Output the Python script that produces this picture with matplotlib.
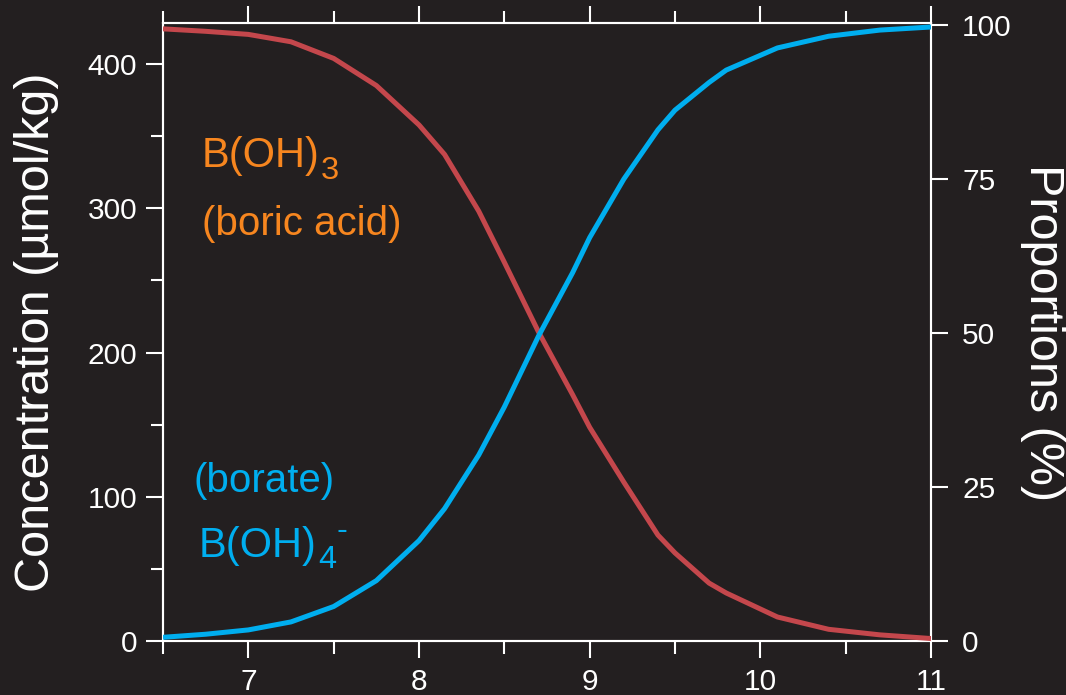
import matplotlib
matplotlib.use("Agg")
import matplotlib.pyplot as plt
from matplotlib.ticker import MultipleLocator, FixedLocator
from matplotlib.transforms import offset_copy

plt.rcParams['font.family'] = ['Liberation Sans', 'DejaVu Sans']

# ---- data ----
ph = [6.5, 6.75, 7.0, 7.25, 7.5, 7.75, 8.0, 8.15, 8.35, 8.5, 8.7, 8.9,
      9.0, 9.2, 9.4, 9.5, 9.7, 9.8, 10.1, 10.4, 10.7, 11.0]
borate_pct = [0.6, 1.1, 1.8, 3.1, 5.6, 9.8, 16.3, 21.5, 30.2, 38.0, 49.5, 59.8,
              65.5, 75.0, 83.0, 86.2, 90.7, 92.7, 96.3, 98.2, 99.2, 99.7]
boric_pct = [99.4, 99.0, 98.5, 97.3, 94.6, 90.2, 83.8, 79.0, 69.8, 61.5, 50.2, 40.0,
             34.7, 25.8, 17.2, 14.3, 9.4, 7.8, 3.9, 1.9, 1.0, 0.4]
conc_ticks = [0, 100, 200, 300, 400]
conc_minor = [50, 150, 250, 350]
pct_ticks = [0, 25, 50, 75, 100]
x_ticks = [7, 8, 9, 10, 11]

BG = '#231f20'
FG = 'white'
RED = '#c4474c'
BLUE = '#00aeef'
ORANGE = '#f7861f'

fig = plt.figure(figsize=(10.66, 6.95), dpi=100, facecolor=BG)
ax = fig.add_axes([163/1066, 1-641/695, (931-163)/1066, (641-23)/695])
ax.set_facecolor(BG)
ax2 = ax.twinx()

ax.set_xlim(6.5, 11)
ax.set_ylim(0, 428.5)
ax2.set_ylim(0, 100.35)

ax2.plot(ph, boric_pct, color=RED, lw=3.6, solid_capstyle='butt',
         solid_joinstyle='round', zorder=3)
ax2.plot(ph, borate_pct, color=BLUE, lw=3.6, solid_capstyle='butt',
         solid_joinstyle='round', zorder=3)

for a in (ax, ax2):
    for s in a.spines.values():
        s.set_color(FG)
        s.set_linewidth(1.5)

ax.xaxis.set_major_locator(FixedLocator(x_ticks))
ax.xaxis.set_minor_locator(MultipleLocator(0.5))
ax.yaxis.set_major_locator(FixedLocator(conc_ticks))
ax.yaxis.set_minor_locator(FixedLocator(conc_minor))
ax2.yaxis.set_major_locator(FixedLocator(pct_ticks))

ax.tick_params(axis='x', which='both', direction='out', top=True, bottom=True,
               labeltop=False, colors=FG, width=1.5, labelsize=21.5, pad=7)
ax.tick_params(axis='x', which='major', length=12.5)
ax.tick_params(axis='x', which='minor', length=9)
ax.tick_params(axis='y', which='both', direction='out', colors=FG, width=1.5,
               labelsize=21.5, pad=6)
ax.tick_params(axis='y', which='major', length=12.5)
ax.tick_params(axis='y', which='minor', length=9)
ax2.tick_params(axis='y', which='major', direction='out', colors=FG, width=1.5,
                length=12.5, labelsize=21.5, pad=10)

fig.text(37/1066, 1-332/695, 'Concentration (µmol/kg)', rotation=90, color=FG,
         fontsize=35, ha='center', va='center')
fig.text(1043/1066, 1-333/695, 'Proportions (%)', rotation=270, color=FG,
         fontsize=35, ha='center', va='center')

fig.canvas.draw()
renderer = fig.canvas.get_renderer()


def chem(x, y, base, sub, sup, color, size):
    t = ax2.text(x, y, base, color=color, fontsize=size, va='baseline', ha='left')
    bb = t.get_window_extent(renderer)
    xe, _ = ax2.transData.inverted().transform((bb.x1, bb.y0))
    tr_sub = offset_copy(ax2.transData, fig=fig, x=1, y=-8, units='points')
    s = ax2.text(xe, y, sub, color=color, fontsize=size*0.78, va='baseline',
                 ha='left', transform=tr_sub)
    if sup:
        bb2 = s.get_window_extent(renderer)
        xe2, _ = ax2.transData.inverted().transform((bb2.x1, bb2.y0))
        tr_sup = offset_copy(ax2.transData, fig=fig, x=0, y=13, units='points')
        ax2.text(xe2, y, sup, color=color, fontsize=size*0.78, va='baseline',
                 ha='left', transform=tr_sup)


chem(6.728, 76.9, 'B(OH)', '3', None, ORANGE, 30)
ax2.text(6.728, 65.9, '(boric acid)', color=ORANGE, fontsize=29, va='baseline', ha='left')
ax2.text(6.676, 24.2, '(borate)', color=BLUE, fontsize=29, va='baseline', ha='left')
chem(6.71, 13.6, 'B(OH)', '4', '-', BLUE, 30)

fig.savefig('out.png', dpi=100, facecolor=BG)
